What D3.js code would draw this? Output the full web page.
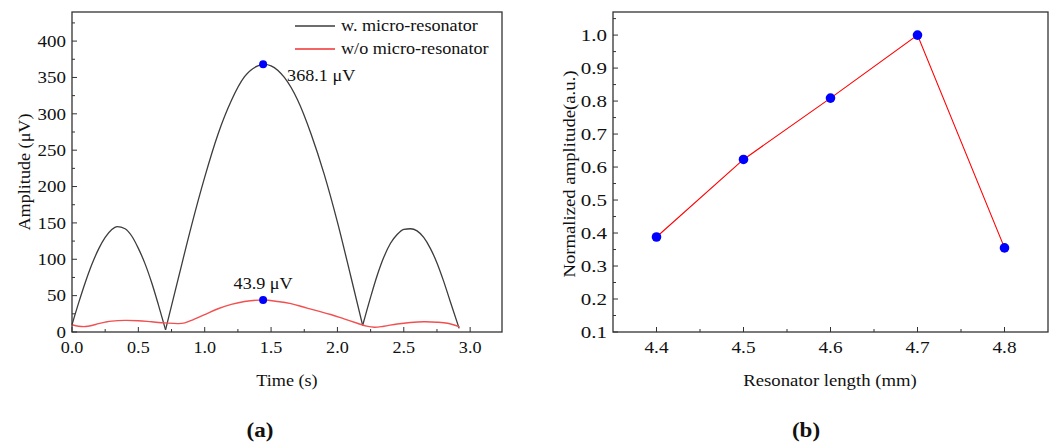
<!DOCTYPE html>
<html><head><meta charset="utf-8">
<script src="https://cdn.jsdelivr.net/npm/d3@7"></script>
<style>body{margin:0;background:#fff}svg{display:block}text{font-family:"Liberation Serif","Times New Roman",serif;fill:#111}</style>
</head><body><svg id="c" width="1057" height="443"></svg>
<script>
// ---- Panel (a) data ----
const blackT = [0,0.05,0.10,0.15,0.20,0.25,0.30,0.34,0.40,0.45,0.50,0.55,0.60,0.65,0.705,
  0.80,0.90,1.00,1.10,1.20,1.30,1.40,1.45,1.50,1.60,1.70,1.80,1.90,2.00,2.10,2.19,
  2.25,2.30,2.35,2.40,2.45,2.50,2.55,2.60,2.65,2.70,2.75,2.80,2.85,2.917];
const blackV = [10,40,68,93,114,130,141,145,142,132,115,94,68,38,3,
  73,146,213,272,318,351,366,368.1,366,350,319,273,217,151,77,9,
  48,78,103,122,134,141,142,139,130,115,95,70,42,5];
const redT = [0,0.05,0.10,0.15,0.20,0.25,0.30,0.40,0.50,0.60,0.70,0.80,0.85,0.90,1.00,1.10,1.20,1.30,1.44,
  1.55,1.65,1.75,1.85,1.95,2.05,2.15,2.22,2.28,2.35,2.45,2.55,2.65,2.75,2.83,2.92];
const redV = [10,8,7.5,9,11.5,13.5,15,16,15.5,14,12.5,11.5,12.5,16,24,32,38,42,43.9,
  42,39,34,29,24,18,12,8,6.5,8,11,13,14,13.5,12,7];
const peakT = [1.44, 1.44];
const peakV = [368.1, 43.9];
const peakLabels = ["368.1 μV", "43.9 μV"];
const seriesNames = ["w. micro-resonator", "w/o micro-resonator"];
const aXTicks = [0,0.5,1.0,1.5,2.0,2.5,3.0];
const aYTicks = [0,50,100,150,200,250,300,350,400];

// ---- Panel (b) data ----
const lengths = [4.4,4.5,4.6,4.7,4.8];
const normAmp = [0.388,0.623,0.809,1.0,0.355];
const bXTicks = [4.4,4.5,4.6,4.7,4.8];
const bYTicks = [0.1,0.2,0.3,0.4,0.5,0.6,0.7,0.8,0.9,1.0];

const svg = d3.select("#c");
const AX = "#333";
const SX = 1.1; // horizontal stretch of the reference text

function txt(g, x, y, s, size, anchor, opts={}){
  const rot = opts.rotate ? ` rotate(${opts.rotate})` : "";
  const t = g.append("text").attr("transform",`translate(${x},${y})${rot} scale(${opts.sx||SX},1)`)
    .attr("text-anchor",anchor||"start").style("font-size",size+"px").text(s);
  if(opts.dy) t.attr("dy",opts.dy);
  if(opts.bold) t.style("font-weight","bold");
  return t;
}
function frame(g, x, y){
  const [x0,x1] = x.range(), [y1,y0] = y.range();
  g.append("rect").attr("x",x0).attr("y",y0).attr("width",x1-x0).attr("height",y1-y0)
    .attr("fill","none").attr("stroke",AX).attr("stroke-width",1.3);
}
function ticks(g, x, y, xt, xminor, yt, yminor, fmtX, fmtY, fs, sxY){
  const [x0,x1] = x.range(), [y1,y0] = y.range();
  xminor.forEach(v=>g.append("line").attr("x1",x(v)).attr("x2",x(v)).attr("y1",y1).attr("y2",y1-3).attr("stroke",AX));
  yminor.forEach(v=>g.append("line").attr("y1",y(v)).attr("y2",y(v)).attr("x1",x0).attr("x2",x0+3).attr("stroke",AX));
  xt.forEach(v=>{
    g.append("line").attr("x1",x(v)).attr("x2",x(v)).attr("y1",y1).attr("y2",y1-5).attr("stroke",AX);
    txt(g, x(v), y1+21, fmtX(v), fs, "middle");
  });
  yt.forEach(v=>{
    g.append("line").attr("y1",y(v)).attr("y2",y(v)).attr("x1",x0).attr("x2",x0+5).attr("stroke",AX);
    txt(g, x0-6, y(v), fmtY(v), fs, "end", {dy:"0.35em", sx:sxY});
  });
}

// ===== Panel (a) =====
{
  const x = d3.scaleLinear().domain([0,3.24]).range([72,502]);
  const y = d3.scaleLinear().domain([0,440]).range([332,12]);
  const g = svg.append("g");
  const minorX = d3.range(0.25,3.24,0.5);
  const minorY = d3.range(25,440,50);
  ticks(g,x,y,aXTicks,minorX,aYTicks,minorY,d3.format(".1f"),d3.format("d"),16.5,1.15);

  // split black series into arches at local minima (cusps)
  const pts = blackT.map((t,i)=>[t,blackV[i]]);
  const cuts = [0];
  for(let i=1;i<pts.length-1;i++) if(pts[i][1]<pts[i-1][1] && pts[i][1]<pts[i+1][1]) cuts.push(i);
  cuts.push(pts.length-1);
  const line = d3.line().x(d=>x(d[0])).y(d=>y(d[1])).curve(d3.curveMonotoneX);
  for(let k=0;k<cuts.length-1;k++){
    g.append("path").datum(pts.slice(cuts[k],cuts[k+1]+1)).attr("d",line)
      .attr("fill","none").attr("stroke","#3c3c3c").attr("stroke-width",1.3);
  }
  const rpts = redT.map((t,i)=>[t,redV[i]]);
  g.append("path").datum(rpts).attr("d",d3.line().x(d=>x(d[0])).y(d=>y(d[1])).curve(d3.curveCatmullRom))
    .attr("fill","none").attr("stroke","#f25050").attr("stroke-width",1.4);

  peakT.forEach((t,i)=>{
    g.append("circle").attr("cx",x(t)).attr("cy",y(peakV[i])).attr("r",4).attr("fill","#0000ff");
  });
  txt(g, x(peakT[0])+24, y(peakV[0])+17, peakLabels[0], 16.5, "start");
  txt(g, x(peakT[1]), y(peakV[1])-11, peakLabels[1], 16.5, "middle");

  frame(g,x,y);

  // legend
  const lc = ["#3c3c3c","#f03030"];
  seriesNames.forEach((n,i)=>{
    const ly = 26 + i*23;
    g.append("line").attr("x1",295).attr("x2",335).attr("y1",ly).attr("y2",ly).attr("stroke",lc[i]).attr("stroke-width",1.3);
    txt(g, 341, ly, n, 16.5, "start", {dy:"0.33em"});
  });

  txt(g, 30, 172, "Amplitude (μV)", 16.5, "middle", {rotate:-90});
  txt(g, 287, 386, "Time (s)", 16.5, "middle");
  txt(g, 260, 437, "(a)", 22, "middle", {bold:true, sx:1.05});
}

// ===== Panel (b) =====
{
  const x = d3.scaleLinear().domain([4.35,4.85]).range([613,1048]);
  const y = d3.scaleLinear().domain([0.1,1.07]).range([332,12]);
  const g = svg.append("g");
  const minorX = d3.range(4.45,4.85,0.1);
  const minorY = d3.range(0.15,1.07,0.1);
  ticks(g,x,y,bXTicks,minorX,bYTicks,minorY,d3.format(".1f"),d3.format(".1f"),17.5,1.2);

  const pts = lengths.map((l,i)=>[l,normAmp[i]]);
  g.append("path").datum(pts).attr("d",d3.line().x(d=>x(d[0])).y(d=>y(d[1])))
    .attr("fill","none").attr("stroke","#ff0000").attr("stroke-width",1.1);
  g.selectAll("circle.p").data(pts).enter().append("circle")
    .attr("cx",d=>x(d[0])).attr("cy",d=>y(d[1])).attr("r",4.8).attr("fill","#0000ff");

  frame(g,x,y);

  txt(g, 575, 174, "Normalized amplitude(a.u.)", 17, "middle", {rotate:-90});
  txt(g, 830, 386, "Resonator length (mm)", 17, "middle");
  txt(g, 806, 437, "(b)", 22, "middle", {bold:true, sx:1.05});
}
</script></body></html>
